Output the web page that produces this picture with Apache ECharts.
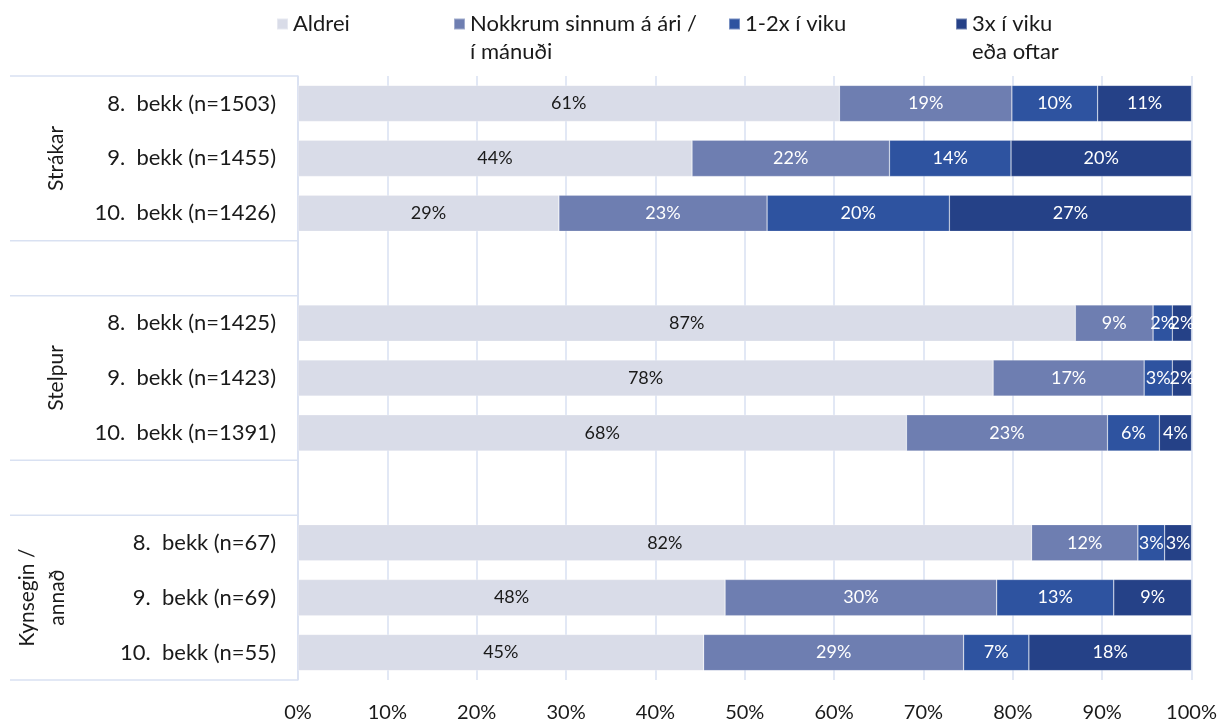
<!DOCTYPE html>
<html>
<head>
<meta charset="utf-8">
<script src="https://cdn.jsdelivr.net/npm/echarts@6/dist/echarts.min.js"></script>
<style>
html,body{margin:0;padding:0;background:#fff;}
#c{width:1220px;height:723px;}
</style>
</head>
<body>
<div id="c"></div>
<script>
const categories = [
  '8.  bekk (n=1503)', '9.  bekk (n=1455)', '10.  bekk (n=1426)', ' ',
  '8.  bekk (n=1425)', '9.  bekk (n=1423)', '10.  bekk (n=1391)', '  ',
  '8.  bekk (n=67)', '9.  bekk (n=69)', '10.  bekk (n=55)'
];
const groups = ['Strákar', 'Stelpur', 'Kynsegin /\nannað'];
const seriesNames = ['Aldrei', 'Nokkrum sinnum á ári /\ní mánuði', '1-2x í viku', '3x í viku\neða oftar'];
const aldrei   = [60.6, 44.1, 29.2, null, 87.0, 77.8, 68.1, null, 82.1, 47.8, 45.4];
const nokkrum  = [19.3, 22.1, 23.3, null, 8.7, 16.9, 22.5, null, 11.9, 30.4, 29.1];
const vikulega = [9.6, 13.6, 20.4, null, 2.15, 3.15, 5.8, null, 3.0, 13.1, 7.3];
const oftar    = [10.5, 20.2, 27.1, null, 2.15, 2.15, 3.6, null, 3.0, 8.7, 18.2];
const xTicks = [0, 10, 20, 30, 40, 50, 60, 70, 80, 90, 100];

const colors = ['#D9DCE8', '#6E7EB1', '#2E53A0', '#254187'];
const labelColors = ['#1a1a1a', '#ffffff', '#ffffff', '#ffffff'];
const font = 'Lato';
const values = [aldrei, nokkrum, vikulega, oftar];

const chart = echarts.init(document.getElementById('c'), null, {renderer: 'canvas'});

const legendPos = [
  {left: 271, top: 5},
  {left: 448, top: -23},
  {left: 723, top: 5},
  {left: 950, top: -23}
];

const option = {
  animation: false,
  textStyle: {fontFamily: font},
  color: colors,
  legend: seriesNames.map((n, i) => ({
    data: [n],
    left: legendPos[i].left,
    top: legendPos[i].top,
    orient: 'horizontal',
    itemWidth: 11,
    itemHeight: 11,
    icon: 'rect',
    selectedMode: false,
    formatter: name => name.indexOf('\n') >= 0 ? '\n' + name : name,
    textStyle: {fontFamily: font, fontSize: 22, color: '#1a1a1a', lineHeight: 28}
  })),
  grid: {left: 298, right: 28.5, top: 76, bottom: 38, containLabel: false},
  xAxis: {
    type: 'value', min: 0, max: 100, interval: 10,
    axisLine: {show: false},
    axisTick: {show: false},
    splitLine: {show: true, lineStyle: {color: '#D9E1F2', width: 1.5}},
    axisLabel: {
      fontFamily: font, fontSize: 20, color: '#1a1a1a', margin: 23,
      formatter: v => xTicks.indexOf(v) >= 0 ? v + '%' : ''
    }
  },
  yAxis: {
    type: 'category', data: categories, inverse: true,
    axisLine: {show: true, lineStyle: {color: '#D9E1F2', width: 1.5}},
    axisTick: {show: false},
    axisLabel: {fontFamily: font, fontSize: 22, color: '#1a1a1a', margin: 22}
  },
  series: values.map((arr, i) => ({
    name: seriesNames[i],
    type: 'bar',
    stack: 'total',
    barCategoryGap: '34%',
    data: arr,
    itemStyle: {color: colors[i], borderColor: 'rgba(255,255,255,0.35)', borderWidth: 0.6},
    label: {
      show: true, position: 'inside',
      fontFamily: font, fontSize: 18, color: labelColors[i],
      formatter: p => p.value == null ? '' : Math.round(p.value) + '%'
    }
  }))
};
chart.setOption(option);

// group separators and group labels on the left (Excel multi-level category look)
const yc = i => chart.convertToPixel({yAxisIndex: 0}, categories[i]);
const band = Math.abs(yc(1) - yc(0));
const axisX = chart.convertToPixel({xAxisIndex: 0}, 0);
const ranges = [[0, 2], [4, 6], [8, 10]];
const els = [];
ranges.forEach((r, g) => {
  const top = yc(r[0]) - band / 2;
  const bot = yc(r[1]) + band / 2;
  [top, bot].forEach(y => els.push({
    type: 'line', shape: {x1: 10, y1: y, x2: axisX, y2: y},
    style: {stroke: '#D9E1F2', lineWidth: 1.5}, silent: true
  }));
  els.push({
    type: 'text', x: g === 2 ? 42 : 56, y: (top + bot) / 2, rotation: Math.PI / 2,
    style: {
      text: groups[g], fontFamily: font, fontSize: 21, fill: '#1a1a1a',
      align: 'center', verticalAlign: 'middle', lineHeight: 30
    }, silent: true
  });
});
chart.setOption({graphic: els});
</script>
</body>
</html>
